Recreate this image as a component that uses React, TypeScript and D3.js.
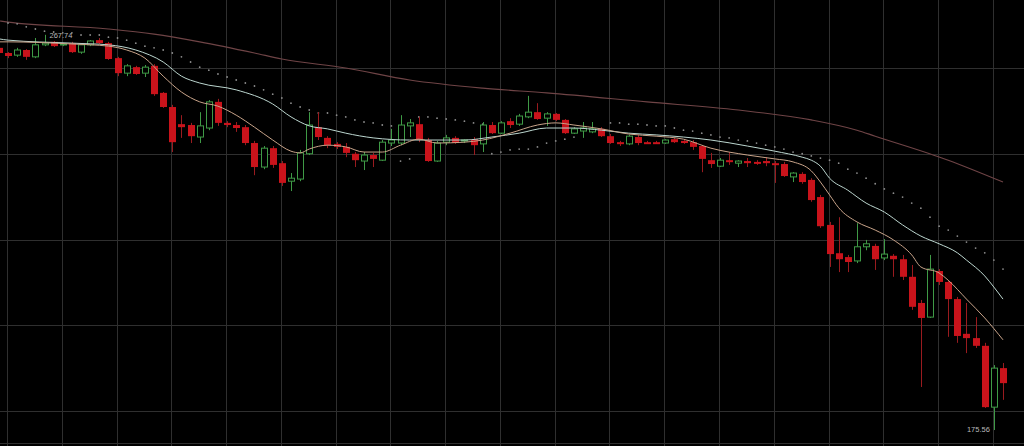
import React from 'react';
import * as d3 from 'd3';

const W = 1024;
const H = 446;

// candles, index 0 = partial candle at the left edge
const opens = [264.7,263.5,263.0,264.2,262.6,265.4,266.1,265.4,265.8,263.7,265.4,266.5,265.8,262.3,258.8,260.2,258.8,260.5,254.2,250.9,246.9,246.7,243.9,246.0,252.1,247.2,246.7,246.2,242.5,236.9,241.3,237.8,233.6,234.1,240.0,246.2,243.7,242.3,241.6,240.0,238.3,239.7,238.5,242.5,242.5,246.5,246.9,243.2,238.3,242.7,243.7,243.0,243.4,242.3,246.7,244.8,247.6,246.9,248.6,249.7,248.3,249.3,247.9,244.8,245.3,245.1,245.8,244.1,242.7,242.3,243.9,242.7,242.7,242.5,243.4,243.0,242.7,241.8,238.5,237.1,238.5,237.8,238.3,238.1,238.3,237.8,237.6,234.6,235.3,233.9,229.9,223.4,216.8,215.9,215.0,218.3,218.5,215.7,216.2,215.4,211.3,205.2,201.9,212.65,210.1,206.1,198.0,197.0,195.2,180.9,190.0];
const highs = [265.1,263.7,264.7,264.4,267.0,267.74,266.3,265.8,266.1,265.6,266.5,267.0,266.1,262.6,260.9,260.5,260.7,260.9,254.4,251.4,249.0,247.2,249.7,252.5,252.8,247.6,247.4,246.7,243.0,241.8,241.8,238.3,235.5,240.9,249.7,249.7,244.1,242.7,242.5,240.4,240.4,240.2,243.2,245.8,249.0,248.1,248.6,243.7,243.0,244.4,244.1,243.4,243.9,247.4,247.4,247.6,248.3,249.3,253.5,251.8,249.7,249.5,248.1,246.2,247.4,247.4,246.2,244.6,243.0,244.4,244.4,243.0,243.0,243.4,243.7,243.2,243.2,242.0,240.2,239.0,240.4,238.5,239.0,238.5,239.2,238.3,238.1,235.7,235.7,234.3,230.4,224.1,225.2,216.4,223.8,219.9,219.0,220.1,216.6,216.4,214.05,205.9,216.4,213.1,210.55,206.6,205.2,201.9,195.9,190.7,191.2];
const lows = [263.0,262.3,262.6,261.9,262.3,265.1,264.9,265.1,263.5,263.3,265.1,265.6,261.9,258.1,258.1,258.4,257.9,253.5,250.7,240.4,243.7,242.5,242.5,245.5,246.5,246.2,245.1,242.0,235.0,236.4,236.7,232.5,231.3,233.6,239.7,243.2,241.3,241.1,239.2,236.9,236.2,236.9,238.3,241.8,242.0,243.9,242.7,238.1,238.1,242.0,242.3,242.5,239.7,240.4,244.6,244.6,246.0,246.5,248.3,247.9,246.5,247.6,244.6,244.6,243.7,244.8,243.9,242.3,241.8,242.0,242.0,242.3,242.3,242.3,242.5,242.3,240.9,235.7,236.7,236.9,237.4,236.9,236.9,237.4,237.1,233.2,234.6,233.4,233.0,228.8,222.7,213.6,212.4,212.4,214.5,217.5,212.9,215.2,211.3,210.55,203.6,185.6,201.7,209.4,197.3,195.9,193.5,194.7,180.7,175.56,182.6];
const closes = [263.5,262.8,264.2,262.6,265.4,265.8,265.1,265.6,263.7,265.4,266.3,265.8,262.1,258.8,260.5,258.6,260.2,253.9,250.9,242.7,246.2,244.1,246.5,252.1,247.2,246.7,246.0,242.5,236.9,241.3,237.4,233.2,234.3,240.2,246.7,243.9,242.0,241.6,240.2,238.5,239.7,238.8,242.7,243.2,246.7,247.2,243.2,238.3,242.5,243.7,242.5,243.2,242.0,246.7,244.8,247.2,246.7,248.8,249.7,248.1,249.3,247.9,244.8,245.8,246.0,245.8,244.1,242.5,242.3,244.1,242.5,242.5,242.5,243.2,242.7,242.5,241.6,238.8,237.6,238.5,238.1,238.3,237.8,237.8,237.8,237.4,234.8,235.5,233.4,229.2,223.1,216.6,215.4,214.75,218.3,219.0,215.4,216.6,215.4,211.3,204.3,201.7,213.1,210.1,206.1,197.5,197.0,195.2,180.9,190.0,186.5];

// dotted indicator, one value per candle (null = no dot seen)
const sarValues = [null,270.5,270.3,269.6,269.1,268.6,268.4,268.2,268.2,267.7,267.7,267.7,267.2,267.0,266.5,265.8,265.1,264.7,264.2,263.5,262.6,261.4,260.2,259.5,258.6,257.9,257.2,256.5,255.8,254.9,253.9,253.0,251.8,250.9,250.2,249.5,249.5,249.0,248.6,247.9,247.4,247.2,246.7,246.5,238.3,238.8,248.6,248.6,248.3,248.1,247.9,247.6,247.2,246.9,240.0,240.4,240.9,241.1,241.1,241.6,242.5,243.0,243.4,243.9,null,null,null,247.2,247.2,246.9,246.9,246.7,246.5,246.5,246.0,245.5,245.3,244.8,244.4,243.9,243.7,243.2,243.0,242.5,242.0,241.6,241.1,240.4,240.0,239.5,239.0,238.5,237.8,236.4,235.5,234.3,233.0,231.8,230.8,229.9,228.5,227.3,225.2,223.1,222.2,220.8,219.4,218.0,216.9,215.2,213.1];

// moving averages read at candle positions (candle index, value)
const longMaIdx = [0,1,12,17,22,28,31,38,45,53,60,71,81,89,94,96,104,110];
const longMaVal = [271.0,270.7,269.1,267.9,266.1,263.5,262.1,260.0,257.2,255.3,254.2,252.1,250.2,247.9,245.5,244.1,238.5,233.4];

const slowMaIdx = [0,1,8,12,15,18,20,22,26,30,32,34,36,38,41,45,48,51,54,57,60,63,66,69,72,75,78,82,85,88,89,90,91,93,95,97,99,101,103,105,106,108,109,110];
const slowMaVal = [266.8,266.5,265.8,265.4,264.2,261.4,258.1,256.5,254.9,251.6,248.6,246.5,245.8,244.8,243.7,243.2,243.2,243.2,243.9,244.8,246.0,246.0,245.5,244.8,244.4,243.9,243.2,241.8,240.6,239.2,238.5,237.1,234.3,231.5,228.5,226.4,223.4,220.8,219.0,216.9,215.2,211.5,208.9,206.1];

const fastMaIdx = [0,1,8,12,14,16,18,20,22,24,26,28,30,32,33,34,36,38,40,42,44,46,48,51,53,56,59,61,63,66,69,72,75,78,82,85,87,89,90,91,92,94,96,98,100,101,103,104,106,108,110];
const fastMaVal = [266.1,266.1,265.6,265.1,264.2,262.3,258.1,254.4,252.1,251.1,249.0,246.2,243.2,240.6,240.2,241.1,242.0,241.6,240.4,240.4,242.0,243.4,242.5,242.7,243.2,244.8,246.7,247.2,246.7,245.8,244.6,244.1,243.4,241.3,239.7,238.8,238.1,236.0,233.4,230.4,227.4,224.1,222.2,219.9,216.4,213.6,212.2,210.5,206.1,201.7,196.6];

const gridPrices = [180, 200, 220, 240, 260];

export default function App() {
  const x = d3.scaleLinear().domain([1, 110]).range([8, 1003]);
  const y = d3.scaleLinear().domain([180, 260]).range([411, 68]);
  const step = x(1) - x(0);
  const bodyW = Math.round(step * 0.78);

  const idx = d3.range(opens.length);
  const gridIdx = idx.filter((i) => i >= 1 && (i - 1) % 6 === 0);

  const mkLine = (ix: number[], vals: number[]) =>
    d3
      .line<number>()
      .x((_, j) => x(ix[j]))
      .y((v) => y(v))
      .curve(d3.curveMonotoneX)(vals) || '';

  const hiI = highs.indexOf(d3.max(highs) as number);
  const loI = lows.indexOf(d3.min(lows) as number);

  const red = '#c9131b';
  const redWick = '#9a1b1f';
  const green = '#3f9a46';
  const grid = '#2f2f2f';

  return (
    <svg
      width={W}
      height={H}
      style={{ position: 'absolute', left: 0, top: 0, background: '#000', display: 'block' }}
    >
      <rect x={0} y={0} width={W} height={H} fill="#000" />
      <g>
        {gridIdx.map((i) => (
          <line key={'v' + i} x1={Math.round(x(i)) - 0.5} x2={Math.round(x(i)) - 0.5} y1={0} y2={H} stroke={grid} strokeWidth={1} />
        ))}
        {gridPrices.map((p) => (
          <line key={'h' + p} x1={0} x2={W} y1={Math.round(y(p)) + 0.5} y2={Math.round(y(p)) + 0.5} stroke={grid} strokeWidth={1} />
        ))}
        <line x1={0} x2={W} y1={443.5} y2={443.5} stroke={grid} strokeWidth={1} />
      </g>

      <path d={mkLine(longMaIdx, longMaVal)} fill="none" stroke="#6f4446" strokeWidth={1.1} />

      <g>
        {sarValues.map((v, i) =>
          v == null ? null : <circle key={'s' + i} cx={x(i)} cy={y(v)} r={0.9} fill="#8c8c8c" />
        )}
      </g>

      <g>
        {idx.map((i) => {
          const cx = Math.round(x(i)) + 0.5;
          const up = closes[i] >= opens[i];
          const top = y(Math.max(opens[i], closes[i]));
          const bot = y(Math.min(opens[i], closes[i]));
          const h = Math.max(1, bot - top);
          const left = Math.round(cx - bodyW / 2);
          if (up) {
            return (
              <g key={'c' + i}>
                <line x1={cx} x2={cx} y1={y(highs[i])} y2={y(lows[i])} stroke={green} strokeWidth={1} />
                <rect x={left + 0.5} y={top} width={bodyW - 1} height={h} fill="#000" stroke={green} strokeWidth={1} />
              </g>
            );
          }
          return (
            <g key={'c' + i}>
              <line x1={cx} x2={cx} y1={y(highs[i])} y2={y(lows[i])} stroke={redWick} strokeWidth={1} />
              <rect x={left} y={top} width={bodyW} height={Math.max(2, h)} fill={red} />
            </g>
          );
        })}
      </g>

      <path d={mkLine(slowMaIdx, slowMaVal)} fill="none" stroke="#bcd6cf" strokeWidth={1} />
      <path d={mkLine(fastMaIdx, fastMaVal)} fill="none" stroke="#c9a48a" strokeWidth={1} />

      <text
        x={x(hiI) + 5}
        y={y(highs[hiI]) + 3.5}
        fill="#b8b8b8"
        fontFamily="Liberation Sans, Arial, sans-serif"
        fontSize={7.5}
      >
        {highs[hiI].toFixed(2)}
      </text>
      <text
        x={x(loI) - 4}
        y={y(lows[loI]) + 2}
        fill="#b8b8b8"
        textAnchor="end"
        fontFamily="Liberation Sans, Arial, sans-serif"
        fontSize={7.5}
      >
        {lows[loI].toFixed(2)}
      </text>
    </svg>
  );
}
